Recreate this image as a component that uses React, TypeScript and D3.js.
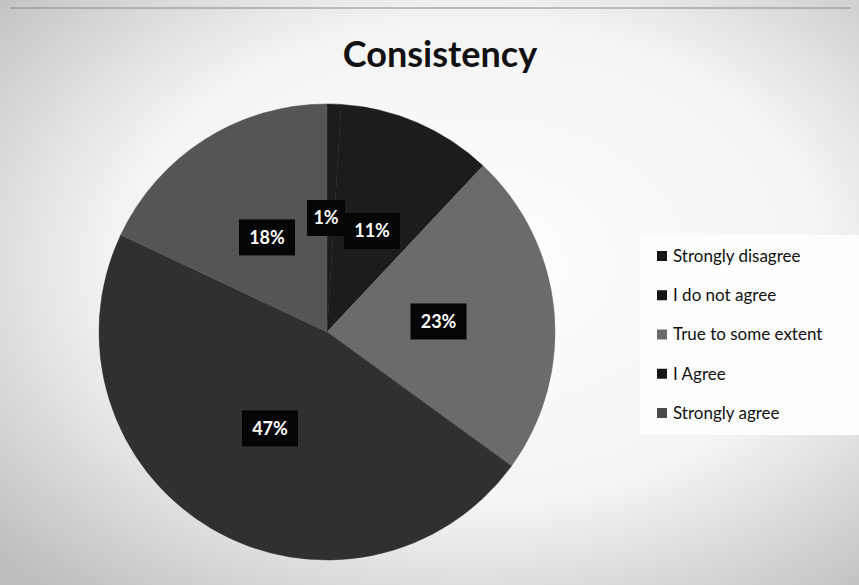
import React from "react";
import * as d3 from "d3";

const categories = ["Strongly disagree", "I do not agree", "True to some extent", "I Agree", "Strongly agree"];
const values = [1, 11, 23, 47, 18];
const labels = ["1%", "11%", "23%", "47%", "18%"];
const colors = ["#1c1c1c", "#1c1c1c", "#6b6b6b", "#303030", "#555555"];
const legendColors = ["#151515", "#151515", "#6a6a6a", "#151515", "#4a4a4a"];

export default function App() {
  const W = 859, H = 585;
  const cx = 327, cy = 332, R = 228;
  const pie = d3.pie<number>().sort(null).value((d) => d);
  const arcs = pie(values);
  const arc = d3.arc<d3.PieArcDatum<number>>().innerRadius(0).outerRadius(R);
  const labelArc = d3.arc<d3.PieArcDatum<number>>().innerRadius(112).outerRadius(112);
  const font = "Lato, 'Open Sans', sans-serif";
  const legendY = d3.scalePoint<string>().domain(categories).range([256, 413]);

  return (
    <svg width={W} height={H} style={{ position: "absolute", left: 0, top: 0 }}>
      <defs>
        <radialGradient id="bg" cx="55%" cy="45%" r="75%">
          <stop offset="0%" stopColor="#ffffff" />
          <stop offset="55%" stopColor="#f4f4f4" />
          <stop offset="100%" stopColor="#bdbdbd" />
        </radialGradient>
      </defs>
      <rect x={0} y={0} width={W} height={H} fill="url(#bg)" />
      <line x1={10} x2={850} y1={8} y2={8} stroke="#888" strokeWidth={1} />
      <text x={440} y={67} textAnchor="middle" fontFamily={font} fontWeight={700} fontSize={36} fill="#111">
        Consistency
      </text>
      <g transform={`translate(${cx},${cy})`}>
        {arcs.map((a, i) => (
          <path key={i} d={arc(a) || ""} fill={colors[i]} stroke={colors[i]} strokeWidth={0.5} />
        ))}
        {arcs.map((a, i) => {
          let [x, y] = labelArc.centroid(a);
          if (i === 0) { x = -1; y = -114; }
          if (i === 1) { x = 45; y = -101; }
          const w = labels[i].length > 2 ? 56 : 38;
          return (
            <g key={"l" + i} transform={`translate(${x},${y})`}>
              <rect x={-w / 2} y={-18} width={w} height={36} fill="#050505" />
              <text textAnchor="middle" dy="0.36em" fontFamily={font} fontWeight={700} fontSize={18} fill="#fff">
                {labels[i]}
              </text>
            </g>
          );
        })}
      </g>
      <rect x={640} y={235} width={219} height={200} fill="#fdfdfd" />
      {categories.map((c, i) => (
        <g key={c} transform={`translate(657,${legendY(c)})`}>
          <rect x={0} y={-5} width={10} height={10} fill={legendColors[i]} />
          <text x={16} dy="0.35em" fontFamily={font} fontSize={17} fill="#111">{c}</text>
        </g>
      ))}
    </svg>
  );
}
